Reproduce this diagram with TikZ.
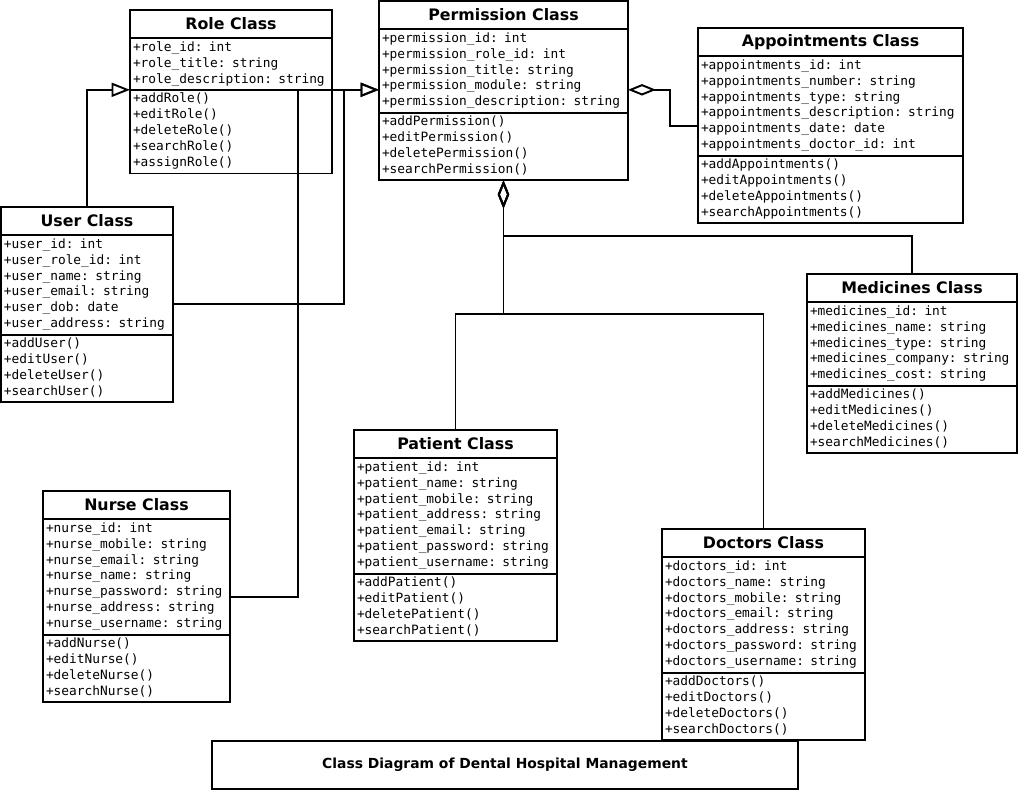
\documentclass[tikz,border=0pt]{standalone}
\usepackage{fontspec}
\newfontfamily\umlmono{DejaVu Sans Mono}
\newfontfamily\umlsans{DejaVu Sans}
\usetikzlibrary{positioning,arrows.meta}

\begin{document}
\begin{tikzpicture}[x=0.02cm, y=-0.02cm,
    ctitle/.style={draw, line width=1.1pt, anchor=north west, inner sep=0pt, outer sep=0pt,
        minimum height=0.56cm, font=\umlsans\bfseries\fontsize{9pt}{11pt}\selectfont},
    cbody/.style={draw, line width=1.1pt, align=left, inner xsep=0.06cm, inner ysep=0.04cm, outer sep=0pt,
        font=\umlmono\fontsize{7.3pt}{9.07pt}\selectfont,
        execute at begin node=\strut, execute at end node=\strut},
    gen/.style={line width=1.1pt, -{Triangle[open, length=10.5pt, width=8pt]}},
    agg/.style={line width=1.1pt, -{Diamond[open, length=16pt, width=6.5pt]}}]

    % page size (pixels of the reference)
    \useasboundingbox (0,0) rectangle (1020,792);

    % Role class
    \node[ctitle, minimum width=4.04cm] (role) at (130,10) {Role Class};
    \node[cbody, text width=3.92cm, below=0pt of role] (role-a) {+role\_id: int\\+role\_title: string\\+role\_description: string};
    \node[cbody, text width=3.92cm, below=0pt of role-a] (role-m) {+addRole()\\+editRole()\\+deleteRole()\\+searchRole()\\+assignRole()};

    % Permission class
    \node[ctitle, minimum width=4.98cm] (perm) at (379,1) {Permission Class};
    \node[cbody, text width=4.86cm, below=0pt of perm] (perm-a) {+permission\_id: int\\+permission\_role\_id: int\\+permission\_title: string\\+permission\_module: string\\+permission\_description: string};
    \node[cbody, text width=4.86cm, below=0pt of perm-a] (perm-m) {+addPermission()\\+editPermission()\\+deletePermission()\\+searchPermission()};

    % Appointments class
    \node[ctitle, minimum width=5.30cm] (appt) at (698,28) {Appointments Class};
    \node[cbody, text width=5.18cm, below=0pt of appt] (appt-a) {+appointments\_id: int\\+appointments\_number: string\\+appointments\_type: string\\+appointments\_description: string\\+appointments\_date: date\\+appointments\_doctor\_id: int};
    \node[cbody, text width=5.18cm, below=0pt of appt-a] (appt-m) {+addAppointments()\\+editAppointments()\\+deleteAppointments()\\+searchAppointments()};

    % User class
    \node[ctitle, minimum width=3.44cm] (user) at (1,207) {User Class};
    \node[cbody, text width=3.32cm, below=0pt of user] (user-a) {+user\_id: int\\+user\_role\_id: int\\+user\_name: string\\+user\_email: string\\+user\_dob: date\\+user\_address: string};
    \node[cbody, text width=3.32cm, below=0pt of user-a] (user-m) {+addUser()\\+editUser()\\+deleteUser()\\+searchUser()};

    % Medicines class
    \node[ctitle, minimum width=4.20cm] (med) at (807,274) {Medicines Class};
    \node[cbody, text width=4.08cm, below=0pt of med] (med-a) {+medicines\_id: int\\+medicines\_name: string\\+medicines\_type: string\\+medicines\_company: string\\+medicines\_cost: string};
    \node[cbody, text width=4.08cm, below=0pt of med-a] (med-m) {+addMedicines()\\+editMedicines()\\+deleteMedicines()\\+searchMedicines()};

    % Patient class
    \node[ctitle, minimum width=4.06cm] (pat) at (354,430) {Patient Class};
    \node[cbody, text width=3.94cm, below=0pt of pat] (pat-a) {+patient\_id: int\\+patient\_name: string\\+patient\_mobile: string\\+patient\_address: string\\+patient\_email: string\\+patient\_password: string\\+patient\_username: string};
    \node[cbody, text width=3.94cm, below=0pt of pat-a] (pat-m) {+addPatient()\\+editPatient()\\+deletePatient()\\+searchPatient()};

    % Nurse class
    \node[ctitle, minimum width=3.74cm] (nurse) at (43,491) {Nurse Class};
    \node[cbody, text width=3.62cm, below=0pt of nurse] (nurse-a) {+nurse\_id: int\\+nurse\_mobile: string\\+nurse\_email: string\\+nurse\_name: string\\+nurse\_password: string\\+nurse\_address: string\\+nurse\_username: string};
    \node[cbody, text width=3.62cm, below=0pt of nurse-a] (nurse-m) {+addNurse()\\+editNurse()\\+deleteNurse()\\+searchNurse()};

    % Doctors class
    \node[ctitle, minimum width=4.06cm] (doc) at (662,529) {Doctors Class};
    \node[cbody, text width=3.94cm, below=0pt of doc] (doc-a) {+doctors\_id: int\\+doctors\_name: string\\+doctors\_mobile: string\\+doctors\_email: string\\+doctors\_address: string\\+doctors\_password: string\\+doctors\_username: string};
    \node[cbody, text width=3.94cm, below=0pt of doc-a] (doc-m) {+addDoctors()\\+editDoctors()\\+deleteDoctors()\\+searchDoctors()};

    % Caption box
    \node[ctitle, minimum width=11.72cm, minimum height=0.96cm,
        font=\umlsans\bfseries\fontsize{7.9pt}{9pt}\selectfont] (caption) at (212,741)
        {Class Diagram of Dental Hospital Management};

    % Ends on the left and right of the permission class
    \coordinate (perm-in) at (perm-a.west |- role-m.north);
    \coordinate (perm-out) at (perm-a.east |- role-m.north);

    % Generalisations
    \draw[gen] (user.north) |- (role-m.north west);
    \draw[gen] ([yshift=-0.39cm]user-a.east) -- ++(3.42cm,0) |- (perm-in);
    \draw[gen] ([yshift=-0.4cm]nurse-a.east) -- ++(1.36cm,0) |- (perm-in);

    % Aggregations
    \draw[agg] ([yshift=-0.4cm]appt-a.west) -- ++(-0.56cm,0) |- (perm-out);
    \draw[agg] (med.north) -- ++(0,0.76cm) -| (perm-m.south);
    \draw[agg] (pat.north) -- ++(0,2.32cm) -| (perm-m.south);
    \draw[agg] (doc.north) -- ++(0,4.3cm) -| (perm-m.south);

\end{tikzpicture}
\end{document}
